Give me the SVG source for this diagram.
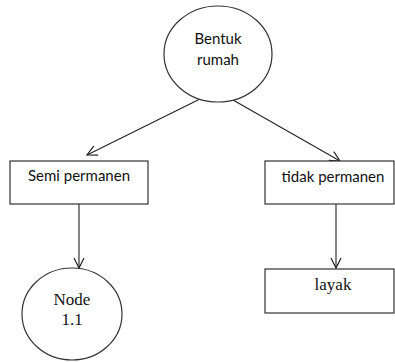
<svg xmlns="http://www.w3.org/2000/svg" width="395" height="363" viewBox="0 0 395 363">
<defs>
<style>
.shape{fill:#fff;stroke:#333;stroke-width:1.2}
.sans{font-family:Lato,"Liberation Sans",sans-serif;font-size:15px;fill:#111;text-anchor:middle}
.serif{font-family:"Liberation Serif",serif;font-size:17px;fill:#111;text-anchor:middle}
.conn{stroke:#222;stroke-width:1.1;fill:none;marker-end:url(#arr)}
</style>
<marker id="arr" viewBox="0 0 12 12" refX="11" refY="6" markerWidth="12" markerHeight="12" markerUnits="userSpaceOnUse" orient="auto">
<path d="M1,1 L11,6 L1,11" fill="none" stroke="#222" stroke-width="1.2"/>
</marker>
</defs>
<rect width="395" height="363" fill="#fff"/>
<g id="connectors">
<line class="conn" x1="200" y1="99" x2="87" y2="155"/>
<line class="conn" x1="233" y1="100" x2="340" y2="161"/>
<line class="conn" x1="79" y1="204" x2="79" y2="268"/>
<line class="conn" x1="336" y1="204" x2="336" y2="268"/>
</g>
<g id="bentuk-rumah">
<ellipse class="shape" cx="218" cy="54" rx="54" ry="48"/>
<text class="sans" x="218" y="44">Bentuk</text>
<text class="sans" x="218" y="65">rumah</text>
</g>
<g id="semi-permanen">
<rect class="shape" x="10" y="161" width="138" height="43"/>
<text class="sans" x="79" y="181">Semi permanen</text>
</g>
<g id="tidak-permanen">
<rect class="shape" x="265" y="161" width="129" height="43"/>
<text class="sans" x="333" y="182">tidak permanen</text>
</g>
<g id="node-1-1">
<ellipse class="shape" cx="72" cy="314" rx="50" ry="46"/>
<text class="serif" x="72" y="305">Node</text>
<text class="serif" x="72" y="325">1.1</text>
</g>
<g id="layak">
<rect class="shape" x="265" y="269" width="129" height="44"/>
<text class="serif" x="333" y="290">layak</text>
</g>
</svg>
